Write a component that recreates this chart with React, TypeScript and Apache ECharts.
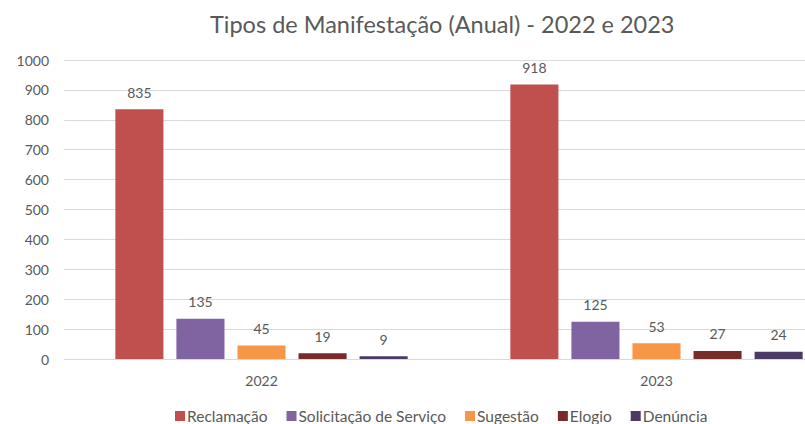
import React, { useEffect, useRef } from "react";
import * as echarts from "echarts";

const categories = ["2022", "2023"];
const seriesNames = ["Reclamação", "Solicitação de Serviço", "Sugestão", "Elogio", "Denúncia"];
const reclamacao = [835, 918];
const solicitacao = [135, 125];
const sugestao = [45, 53];
const elogio = [19, 27];
const denuncia = [9, 24];
const colors = ["#C0504D", "#8064A2", "#F79646", "#772C2A", "#4B3A66"];

export default function App() {
  const ref = useRef<HTMLDivElement>(null);
  useEffect(() => {
    const chart = echarts.init(ref.current!, null, { renderer: "svg" });
    const data = [reclamacao, solicitacao, sugestao, elogio, denuncia];
    const font = "Lato, 'Open Sans', sans-serif";
    chart.setOption({
      animation: false,
      title: {
        text: "Tipos de Manifestação (Anual) - 2022 e 2023",
        left: 205,
        top: 7,
        textStyle: { fontFamily: font, fontSize: 23.5, fontWeight: "normal", color: "#595959" },
      },
      legend: {
        data: seriesNames,
        left: 175,
        top: 408,
        padding: 0,
        itemWidth: 10,
        itemHeight: 10,
        itemGap: 19,
        icon: "rect",
        textStyle: { fontFamily: font, fontSize: 15.5, color: "#595959", padding: [0, 0, 0, -3] },
      },
      grid: { left: 64, top: 60, width: 790, height: 299, containLabel: false },
      xAxis: {
        type: "category",
        data: categories,
        axisLine: { show: true, lineStyle: { color: "#d9d9d9" } },
        axisTick: { show: false },
        axisLabel: { fontFamily: font, fontSize: 14, color: "#595959", margin: 14 },
      },
      yAxis: {
        type: "value",
        min: 0,
        max: 1000,
        interval: 100,
        axisLine: { show: false },
        axisTick: { show: false },
        splitLine: { lineStyle: { color: "#d9d9d9" } },
        axisLabel: {
          fontFamily: font,
          fontSize: 14,
          color: "#595959",
          margin: 15,
          formatter: (v: number) => String(v),
        },
      },
      series: seriesNames.map((name, i) => ({
        name,
        type: "bar",
        data: data[i],
        barGap: "27%",
        barCategoryGap: "26%",
        itemStyle: { color: colors[i] },
        label: {
          show: true,
          position: "top",
          distance: 10,
          fontFamily: font,
          fontSize: 14,
          color: "#595959",
        },
      })),
    });
    return () => chart.dispose();
  }, []);
  return (
    <div style={{ width: 805, height: 424, position: "absolute", left: 0, top: 0, overflow: "hidden" }}>
      <div ref={ref} style={{ width: 860, height: 424 }} />
    </div>
  );
}
